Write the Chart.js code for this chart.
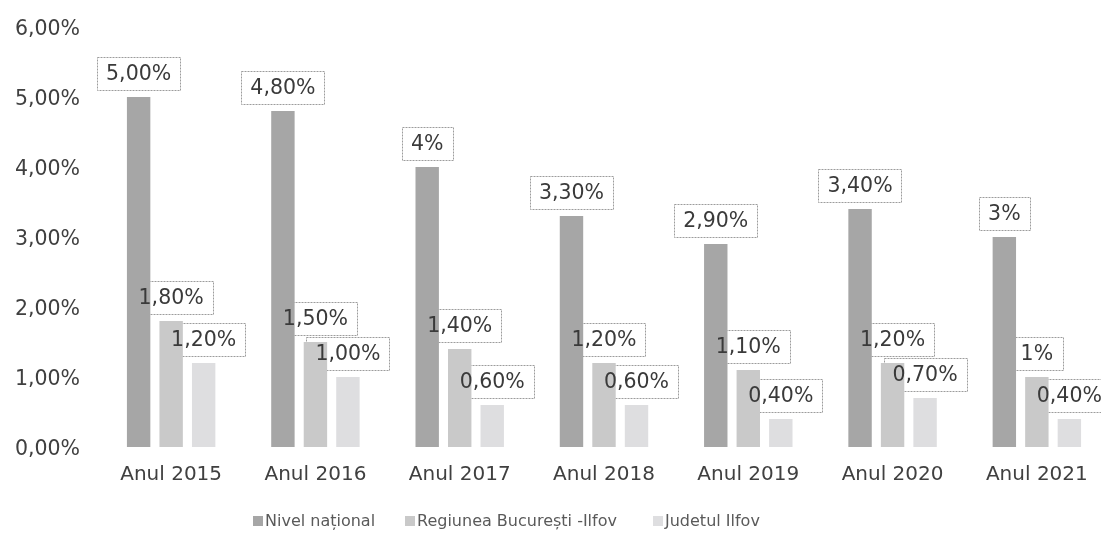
<!DOCTYPE html>
<html>
<head>
<meta charset="utf-8">
<script src="https://cdn.jsdelivr.net/npm/chart.js@4"></script>
<style>
  html, body { margin: 0; padding: 0; background: #fff; overflow: hidden; }
  #wrap { position: relative; width: 1101px; height: 533px; overflow: hidden; }
  #c { position: absolute; left: 0; top: 0; }
  .lg { position: absolute; top: 511px; font: 16px "DejaVu Sans", Verdana, sans-serif; color: #5a5a5a; white-space: nowrap; line-height: 20px; }
  .lg i { position: absolute; left: -12px; top: 5px; width: 10px; height: 10px; display: block; }
</style>
</head>
<body>
<div id="wrap">
  <canvas id="c" width="1110" height="533" style="width:1110px;height:533px"></canvas>
  <span class="lg" style="left:265px"><i style="background:#a6a6a6"></i>Nivel național</span>
  <span class="lg" style="left:417px"><i style="background:#c9c9c9"></i>Regiunea București -Ilfov</span>
  <span class="lg" style="left:665px"><i style="background:#dedee0"></i>Judetul Ilfov</span>
</div>
<script>
const categories = ["Anul 2015", "Anul 2016", "Anul 2017", "Anul 2018", "Anul 2019", "Anul 2020", "Anul 2021"];
const seriesNames = ["Nivel național", "Regiunea București -Ilfov", "Judetul Ilfov"];
const nivelNational = [5.0, 4.8, 4.0, 3.3, 2.9, 3.4, 3.0];
const regiuneaBI = [1.8, 1.5, 1.4, 1.2, 1.1, 1.2, 1.0];
const judetulIlfov = [1.2, 1.0, 0.6, 0.6, 0.4, 0.7, 0.4];
const nivelLabels = ["5,00%", "4,80%", "4%", "3,30%", "2,90%", "3,40%", "3%"];
const regiuneaLabels = ["1,80%", "1,50%", "1,40%", "1,20%", "1,10%", "1,20%", "1%"];
const judetulLabels = ["1,20%", "1,00%", "0,60%", "0,60%", "0,40%", "0,70%", "0,40%"];
const yTickLabels = ["0,00%", "1,00%", "2,00%", "3,00%", "4,00%", "5,00%", "6,00%"];

const FONT = '"DejaVu Sans", Verdana, sans-serif';
const labelSets = [nivelLabels, regiuneaLabels, judetulLabels];

function boxes(chart, cb) {
  const ctx = chart.ctx;
  ctx.font = '20.5px ' + FONT;
  chart.data.datasets.forEach((ds, di) => {
    const meta = chart.getDatasetMeta(di);
    meta.data.forEach((bar, i) => {
      const txt = labelSets[di][i];
      const w = ctx.measureText(txt).width + 18;
      const h = 33;
      const bottom = bar.y - 7;
      cb(ctx, txt, bar.x - w / 2, bottom - h, w, h);
    });
  });
}

const labelPlugin = {
  id: 'boxLabels',
  beforeDatasetsDraw(chart) {
    const ctx = chart.ctx;
    ctx.save();
    boxes(chart, (ctx, txt, x, y, w, h) => {
      ctx.fillStyle = '#ffffff';
      ctx.fillRect(x, y, w, h);
      ctx.setLineDash([2, 1]);
      ctx.lineWidth = 1;
      ctx.strokeStyle = '#9c9c9c';
      ctx.strokeRect(Math.round(x) + 0.5, Math.round(y) + 0.5, Math.round(w), Math.round(h));
    });
    ctx.restore();
  },
  afterDatasetsDraw(chart) {
    const ctx = chart.ctx;
    ctx.save();
    boxes(chart, (ctx, txt, x, y, w, h) => {
      ctx.fillStyle = '#3a3a3a';
      ctx.textAlign = 'center';
      ctx.textBaseline = 'middle';
      ctx.fillText(txt, x + w / 2, y + h / 2 + 1);
    });
    ctx.restore();
  }
};

new Chart(document.getElementById('c'), {
  type: 'bar',
  data: {
    labels: categories,
    datasets: [
      { label: seriesNames[0], data: nivelNational, backgroundColor: '#a6a6a6' },
      { label: seriesNames[1], data: regiuneaBI, backgroundColor: '#c9c9c9' },
      { label: seriesNames[2], data: judetulIlfov, backgroundColor: '#dedee0' }
    ]
  },
  options: {
    responsive: false,
    animation: false,
    devicePixelRatio: 1,
    categoryPercentage: 0.676,
    barPercentage: 0.72,
    layout: { padding: { left: 13, right: 1, top: 27, bottom: 0 } },
    plugins: { legend: { display: false }, tooltip: { enabled: false } },
    scales: {
      x: {
        grid: { display: false },
        border: { display: false },
        ticks: { font: { family: FONT, size: 20 }, color: '#404040', padding: 8 },
        afterFit(s) { s.height = 86; }
      },
      y: {
        min: 0, max: 6,
        grid: { display: false },
        border: { display: false },
        ticks: {
          stepSize: 1,
          font: { family: FONT, size: 20.5 },
          color: '#404040',
          padding: 11,
          labelOffset: 3,
          callback: (v) => yTickLabels[Math.round(v)]
        },
        afterFit(s) { s.width = 86; }
      }
    }
  },
  plugins: [labelPlugin]
});
</script>
</body>
</html>
